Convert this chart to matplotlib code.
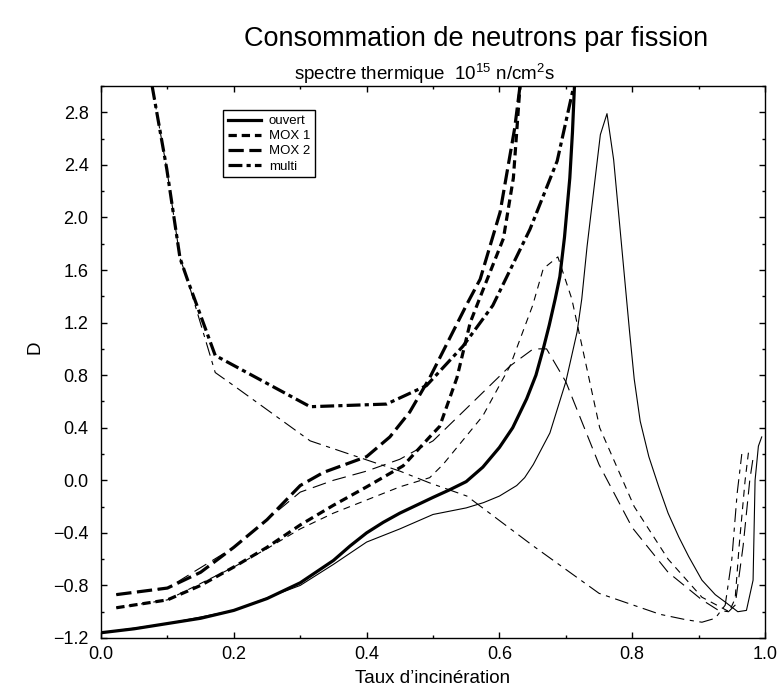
import matplotlib
matplotlib.use("Agg")
import matplotlib.pyplot as plt
from matplotlib.ticker import MultipleLocator

# --- données ---
# traits épais
ouvert_x = [0.0, 0.05, 0.1, 0.15, 0.2, 0.25, 0.3, 0.35, 0.375, 0.4, 0.425, 0.45, 0.5, 0.526, 0.55, 0.575, 0.6, 0.62, 0.641,
            0.655, 0.666, 0.675, 0.684, 0.691, 0.698, 0.706, 0.71, 0.713]
ouvert_y = [-1.16, -1.13, -1.09, -1.05, -0.99, -0.9, -0.78, -0.61, -0.50, -0.40, -0.32, -0.25, -0.13, -0.07, -0.01, 0.10, 0.25, 0.40, 0.62,
            0.80, 1.0, 1.18, 1.38, 1.55, 1.85, 2.3, 2.65, 3.0]

mox1_x = [0.023, 0.1, 0.15, 0.2, 0.25, 0.3, 0.35, 0.4, 0.455, 0.495, 0.51, 0.536, 0.556, 0.573, 0.606, 0.621, 0.631]
mox1_y = [-0.97, -0.91, -0.80, -0.66, -0.51, -0.34, -0.19, -0.05, 0.11, 0.33, 0.41, 0.78, 1.2, 1.42, 1.84, 2.3, 3.0]

mox2_x = [0.023, 0.1, 0.15, 0.2, 0.25, 0.3, 0.335, 0.4, 0.435, 0.465, 0.495, 0.551, 0.571, 0.601, 0.623, 0.631]
mox2_y = [-0.87, -0.82, -0.70, -0.51, -0.30, -0.04, 0.06, 0.18, 0.33, 0.52, 0.78, 1.34, 1.53, 2.04, 2.68, 3.0]

multi_x = [0.077, 0.099, 0.119, 0.13, 0.172, 0.315, 0.43, 0.49, 0.545, 0.59, 0.646, 0.687, 0.712]
multi_y = [3.0, 2.37, 1.69, 1.53, 0.95, 0.56, 0.58, 0.72, 1.02, 1.33, 1.91, 2.43, 3.0]

# traits fins
ouvert_f_x = [0.0, 0.1, 0.2, 0.3, 0.35, 0.4, 0.45, 0.5, 0.55, 0.576, 0.6, 0.626, 0.638, 0.651, 0.676, 0.70, 0.717, 0.724,
              0.732, 0.752, 0.762, 0.772, 0.796, 0.803, 0.812, 0.825, 0.84, 0.854, 0.87, 0.885, 0.905, 0.925, 0.941,
              0.959, 0.972, 0.982, 0.985, 0.99, 0.995]
ouvert_f_y = [-1.16, -1.09, -0.99, -0.80, -0.64, -0.47, -0.37, -0.26, -0.21, -0.17, -0.12, -0.04, 0.02, 0.12, 0.36, 0.75, 1.13, 1.38,
              1.78, 2.63, 2.79, 2.44, 1.13, 0.77, 0.45, 0.18, -0.05, -0.25, -0.43, -0.58, -0.76, -0.87, -0.93,
              -1.0, -0.99, -0.76, 0.0, 0.26, 0.33]

mox1_f_x = [0.023, 0.1, 0.2, 0.25, 0.3, 0.35, 0.4, 0.45, 0.495, 0.515, 0.575, 0.616, 0.65, 0.666, 0.688, 0.709,
            0.751, 0.803, 0.854, 0.905, 0.946, 0.955, 0.961, 0.97, 0.975]
mox1_f_y = [-0.97, -0.91, -0.66, -0.52, -0.37, -0.25, -0.15, -0.05, 0.02, 0.12, 0.49, 0.87, 1.33, 1.61, 1.70, 1.38,
            0.40, -0.20, -0.60, -0.89, -1.0, -0.9, -0.5, 0.0, 0.21]

mox2_f_x = [0.023, 0.1, 0.2, 0.3, 0.35, 0.4, 0.45, 0.5, 0.551, 0.616, 0.651, 0.671, 0.70, 0.75, 0.80, 0.854,
            0.905, 0.93, 0.945, 0.955, 0.967, 0.977, 0.982]
mox2_f_y = [-0.87, -0.82, -0.51, -0.09, 0.0, 0.07, 0.16, 0.3, 0.55, 0.87, 1.0, 1.0, 0.75, 0.12, -0.36, -0.70,
            -0.91, -0.99, -1.0, -0.95, -0.5, 0.0, 0.17]

multi_f_x = [0.077, 0.099, 0.119, 0.13, 0.172, 0.2, 0.315, 0.45, 0.495, 0.551, 0.651, 0.75, 0.842, 0.88, 0.905,
             0.925, 0.94, 0.95, 0.958, 0.965]
multi_f_y = [3.0, 2.37, 1.69, 1.53, 0.82, 0.72, 0.30, 0.07, -0.02, -0.12, -0.50, -0.86, -1.02, -1.06, -1.08,
             -1.05, -0.95, -0.6, -0.1, 0.2]

noms = ["ouvert", "MOX 1", "MOX 2", "multi"]

# --- style ---
plt.rcParams["font.family"] = ["Liberation Sans", "DejaVu Sans"]
plt.rcParams["mathtext.fontset"] = "custom"
plt.rcParams["mathtext.rm"] = "Liberation Sans"
plt.rcParams["mathtext.it"] = "Liberation Sans"
plt.rcParams["lines.scale_dashes"] = False

dash_epais = [None, (6, 3.5), (11, 4), (10, 3, 3, 3)]
dash_fin = [None, (5, 4), (10, 5), (10, 4, 3, 4)]

fig = plt.figure(figsize=(7.77, 6.94), dpi=100)
ax = fig.add_axes([0.130, 0.0807, 0.8546, 0.7953])

series_epais = [(ouvert_x, ouvert_y), (mox1_x, mox1_y), (mox2_x, mox2_y), (multi_x, multi_y)]
series_fin = [(ouvert_f_x, ouvert_f_y), (mox1_f_x, mox1_f_y), (mox2_f_x, mox2_f_y), (multi_f_x, multi_f_y)]

for (x, y), d in zip(series_fin, dash_fin):
    l, = ax.plot(x, y, color="black", lw=0.8)
    if d:
        l.set_dashes(d)

for (x, y), d, nom in zip(series_epais, dash_epais, noms):
    l, = ax.plot(x, y, color="black", lw=2.3, label=nom)
    if d:
        l.set_dashes(d)

ax.set_xlim(0.0, 1.0)
ax.set_ylim(-1.2, 3.0)
ax.xaxis.set_major_locator(MultipleLocator(0.2))
ax.xaxis.set_minor_locator(MultipleLocator(0.1))
ax.yaxis.set_major_locator(MultipleLocator(0.4))
ax.yaxis.set_minor_locator(MultipleLocator(0.2))
ax.xaxis.set_major_formatter(plt.FuncFormatter(lambda v, p: f"{v:.1f}".replace("-", "\u2212")))
ax.yaxis.set_major_formatter(plt.FuncFormatter(lambda v, p: f"{v:.1f}".replace("-", "\u2212")))
ax.tick_params(which="both", direction="in", top=True, right=True, labelsize=13, width=1)
ax.tick_params(axis="x", which="major", length=4.5, pad=6)
ax.tick_params(axis="y", which="major", length=4.5, pad=9)
ax.tick_params(which="minor", length=2.3)
for s in ax.spines.values():
    s.set_linewidth(1)

ax.set_xlabel("Taux d\u2019incinération", fontsize=13.5)
ax.set_ylabel("D", fontsize=13.5)
ax.xaxis.set_label_coords(0.5, -0.058)
ax.yaxis.set_label_coords(-0.086, 0.527)

fig.text(0.613, 0.944, "Consommation de neutrons par fission", fontsize=19.5, ha="center", va="center")
fig.text(0.547, 0.894, "spectre thermique  10$^{15}$ n/cm$^{2}$s", fontsize=13.5, ha="center", va="center")

leg = ax.legend(loc="upper left", bbox_to_anchor=(0.184, 0.956), fontsize=9.5, handlelength=2.5,
                labelspacing=0.22, borderpad=0.35, handletextpad=0.6, borderaxespad=0,
                fancybox=False, framealpha=1, edgecolor="black")
leg.get_frame().set_linewidth(1)

fig.savefig("out.png", dpi=100)
